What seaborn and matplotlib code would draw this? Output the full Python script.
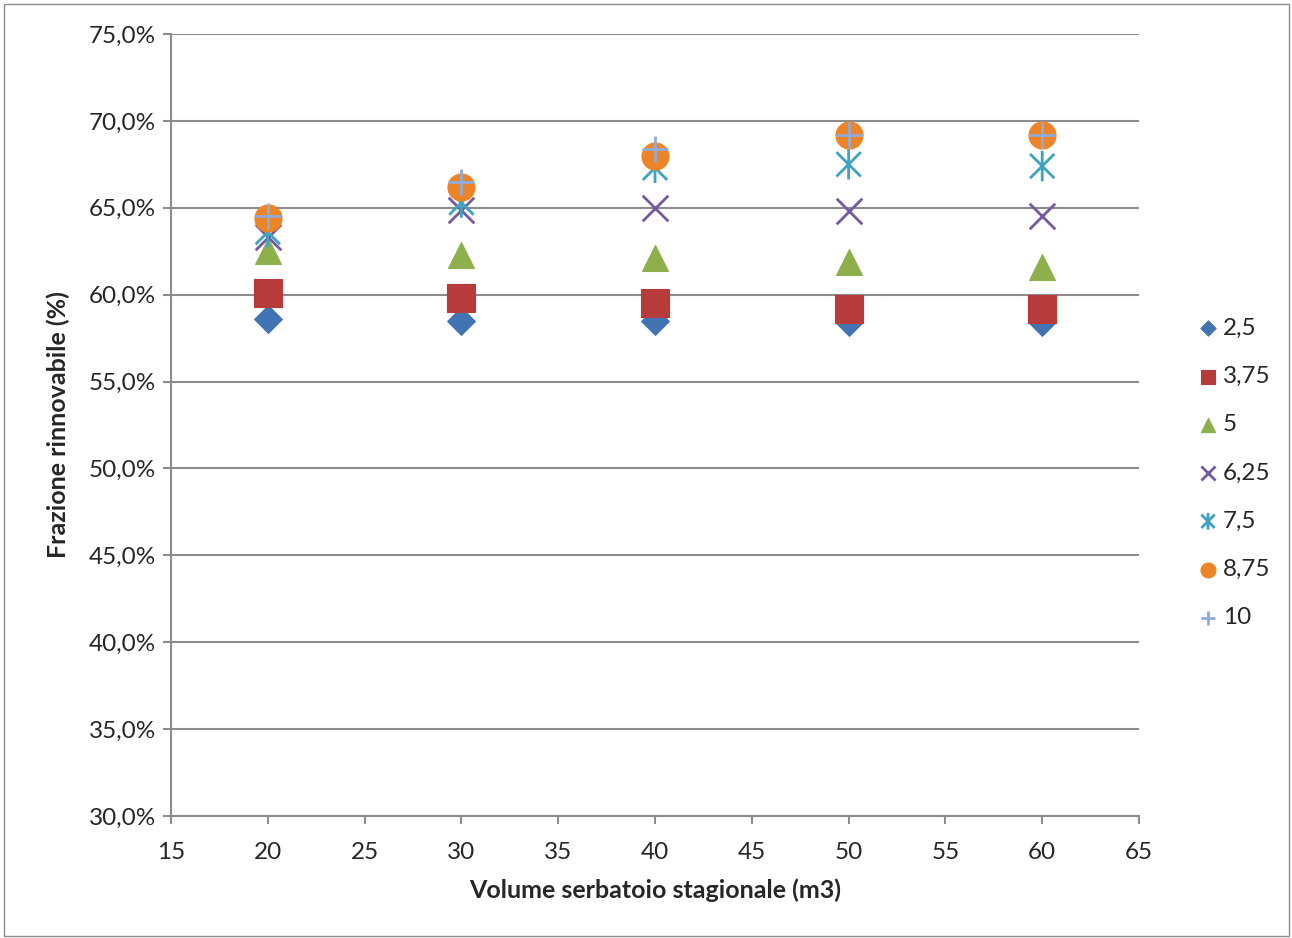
import matplotlib
matplotlib.use("Agg")
import matplotlib.pyplot as plt
import seaborn as sns
import pandas as pd
from matplotlib.path import Path
from matplotlib.patches import Rectangle
from matplotlib.ticker import FuncFormatter, MultipleLocator

volumes = [20, 30, 40, 50, 60]
series_names = ["2,5", "3,75", "5", "6,25", "7,5", "8,75", "10"]
frac_2_5 = [58.6, 58.5, 58.5, 58.4, 58.4]
frac_3_75 = [60.1, 59.8, 59.5, 59.2, 59.2]
frac_5 = [62.5, 62.3, 62.1, 61.9, 61.6]
frac_6_25 = [63.3, 64.9, 65.0, 64.8, 64.5]
frac_7_5 = [63.6, 65.3, 67.3, 67.5, 67.4]
frac_8_75 = [64.4, 66.2, 68.0, 69.2, 69.2]
frac_10 = [64.5, 66.5, 68.4, 69.2, 69.2]
all_values = [frac_2_5, frac_3_75, frac_5, frac_6_25, frac_7_5, frac_8_75, frac_10]

rows = []
for name, vals in zip(series_names, all_values):
    for v, f in zip(volumes, vals):
        rows.append({"serie": name, "volume": v, "frazione": f})
df = pd.DataFrame(rows)

# asterisk marker: vertical line + two diagonals
asterisk = Path([(0, -1), (0, 1), (-0.8, -0.8), (0.8, 0.8), (-0.8, 0.8), (0.8, -0.8)],
                [Path.MOVETO, Path.LINETO, Path.MOVETO, Path.LINETO, Path.MOVETO, Path.LINETO])

styles = {
    "2,5": dict(marker="D", color="#4274B4", s=200, kind="filled"),
    "3,75": dict(marker="s", color="#B73B3A", s=380, kind="filled"),
    "5": dict(marker="^", color="#8DB04C", s=350, kind="filled"),
    "6,25": dict(marker="x", color="#7459A0", s=340, kind="line"),
    "7,5": dict(marker=asterisk, color="#3EA3C0", s=480, kind="path"),
    "8,75": dict(marker="o", color="#EE8428", s=380, kind="filled"),
    "10": dict(marker="+", color="#8FACD8", s=340, kind="line"),
}

sns.set_style("white")
plt.rcParams["font.family"] = ["Lato", "DejaVu Sans"]

fig = plt.figure(figsize=(12.92, 9.38), dpi=100)
ax = fig.add_axes([171 / 1292, 1 - 816 / 938, (1139 - 171) / 1292, (816 - 34) / 938])

for name in series_names:
    st = styles[name]
    sub = df[df["serie"] == name]
    if st["kind"] == "filled":
        sns.scatterplot(data=sub, x="volume", y="frazione", ax=ax, marker=st["marker"],
                        color=st["color"], s=st["s"], edgecolor=st["color"], linewidth=0.8,
                        label=name, zorder=3)
    elif st["kind"] == "line":
        sns.scatterplot(data=sub, x="volume", y="frazione", ax=ax, marker=st["marker"],
                        color=st["color"], s=st["s"], linewidth=2, label=name, zorder=3)
    else:
        sns.scatterplot(data=sub, x="volume", y="frazione", ax=ax, marker=st["marker"],
                        facecolor="none", edgecolor=st["color"], s=st["s"], linewidth=2,
                        label=name, zorder=3)

ax.set_xlim(15, 65)
ax.set_ylim(30, 75)
ax.xaxis.set_major_locator(MultipleLocator(5))
ax.yaxis.set_major_locator(MultipleLocator(5))
ax.yaxis.set_major_formatter(FuncFormatter(lambda v, p: f"{v:.1f}%".replace(".", ",")))
ax.grid(axis="y", color="#8C8C8C", linewidth=1.5)
ax.set_axisbelow(True)
for side in ["top", "right"]:
    ax.spines[side].set_visible(False)
for side in ["left", "bottom"]:
    ax.spines[side].set_color("#8C8C8C")
    ax.spines[side].set_linewidth(1.5)
ax.tick_params(axis="both", which="major", direction="out", length=6, width=1.5,
               color="#8C8C8C", labelsize=17.5, left=True, bottom=True)
ax.tick_params(axis="x", pad=13)
ax.tick_params(axis="y", pad=5)

ax.set_xlabel("Volume serbatoio stagionale (m3)", fontsize=18, fontweight="bold", labelpad=11)
ax.set_ylabel("Frazione rinnovabile (%)", fontsize=18, fontweight="bold", labelpad=13)

leg = ax.legend(loc="upper left", bbox_to_anchor=(1174 / 1292, 1 - 308 / 938),
                bbox_transform=fig.transFigure, frameon=False, fontsize=17.5,
                labelspacing=1.12, handletextpad=-0.4, markerscale=0.55, borderaxespad=0)

fig.patches.append(Rectangle((4 / 1292, 2 / 938), 1285 / 1292, 932 / 938, transform=fig.transFigure,
                             fill=False, edgecolor="#8C8C8C", linewidth=1))

fig.savefig("out.png", dpi=100)
